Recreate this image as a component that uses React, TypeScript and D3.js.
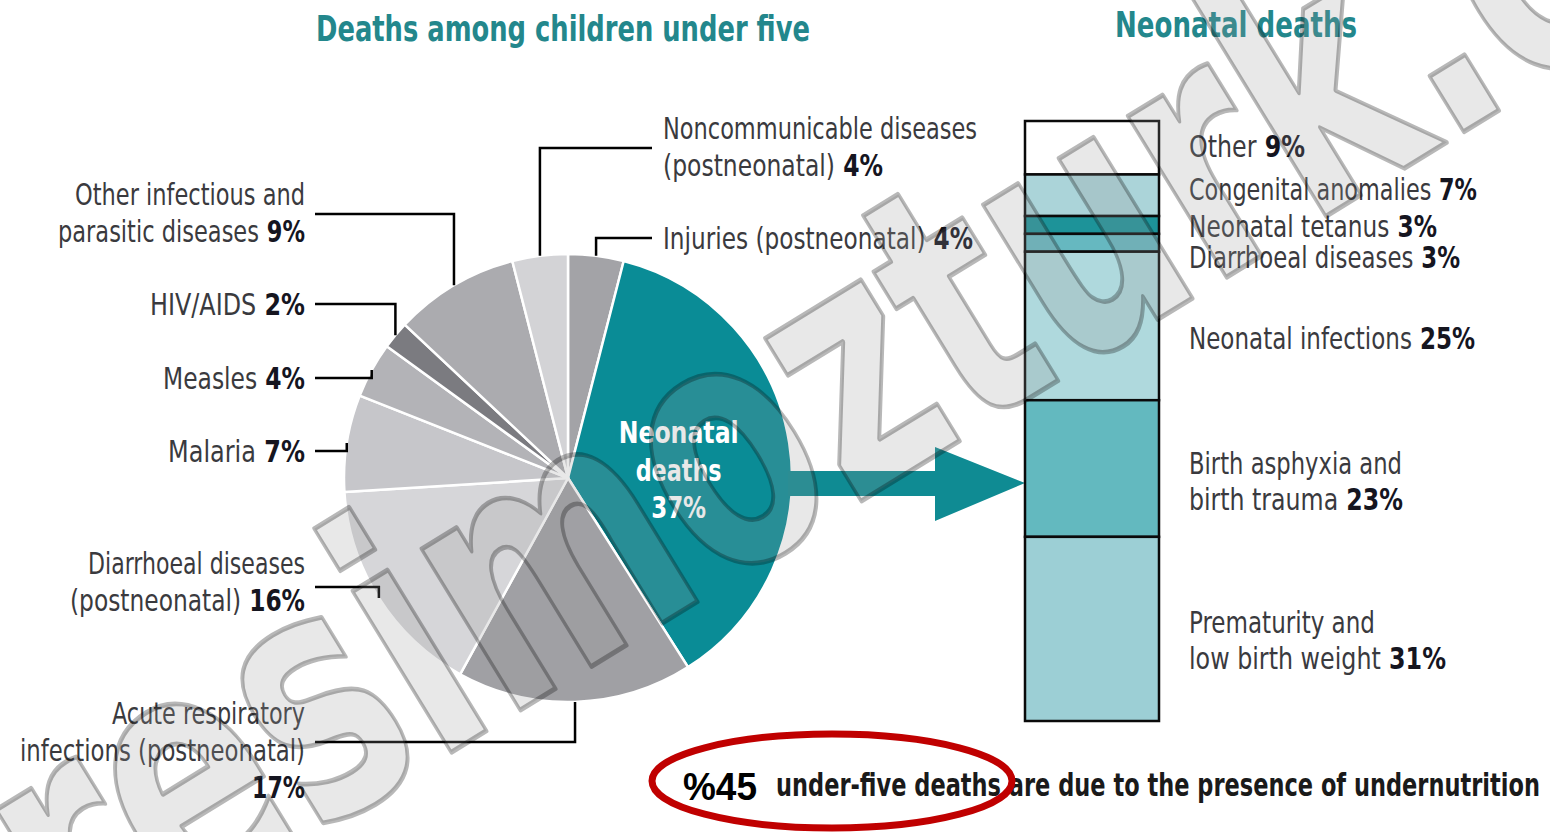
import React from "react";
import * as d3 from "d3";

// ---------- DATA ----------
const pieCategories = [
  "Injuries (postneonatal)",
  "Neonatal deaths",
  "Acute respiratory infections (postneonatal)",
  "Diarrhoeal diseases (postneonatal)",
  "Malaria",
  "Measles",
  "HIV/AIDS",
  "Other infectious and parasitic diseases",
  "Noncommunicable diseases (postneonatal)",
];
const pieValues = [4, 37, 17, 16, 7, 4, 2, 9, 4];
const pieColors = ["#a3a3a7", "#0a8c96", "#a0a0a4", "#d6d6d9", "#c6c6ca", "#b3b3b7", "#7b7b80", "#ababaf", "#d3d3d6"];
const pieLabelLines: string[][] = [
  ["Injuries (postneonatal)"],
  ["Neonatal", "deaths"],
  ["Acute respiratory", "infections (postneonatal)", ""],
  ["Diarrhoeal diseases", "(postneonatal)"],
  ["Malaria"],
  ["Measles"],
  ["HIV/AIDS"],
  ["Other infectious and", "parasitic diseases"],
  ["Noncommunicable diseases", "(postneonatal)"],
];

const barCategories = [
  "Other",
  "Congenital anomalies",
  "Neonatal tetanus",
  "Diarrhoeal diseases",
  "Neonatal infections",
  "Birth asphyxia and birth trauma",
  "Prematurity and low birth weight",
];
const barValues = [9, 7, 3, 3, 25, 23, 31];
const barColors = ["#ffffff", "#abd4d9", "#1d9399", "#66b8c0", "#afd9dd", "#63b9bf", "#9ccfd5"];
const barLabelLines: string[][] = [
  ["Other"],
  ["Congenital anomalies"],
  ["Neonatal tetanus"],
  ["Diarrhoeal diseases"],
  ["Neonatal infections"],
  ["Birth asphyxia and", "birth trauma"],
  ["Prematurity and", "low birth weight"],
];

const titleLeft = "Deaths among children under five";
const titleRight = "Neonatal deaths";
const footPct = "%45";
const footText = "under-five deaths are due to the presence of undernutrition";
const watermark = "resimozturk.com";

// ---------- LAYOUT ----------
const W = 1550;
const H = 832;
const cx = 568;
const cy = 478;
const R = 224;
const pieLabelLayout = [
  { side: "right", y0: 238, leaderY: 238, widths: [310] },
  { side: "inside", y0: 432, leaderY: 0, widths: [120, 86, 55] },
  { side: "left", y0: 713, leaderY: 742, widths: [193, 285, 53] },
  { side: "left", y0: 563, leaderY: 587, widths: [217, 235] },
  { side: "left", y0: 451, leaderY: 451, widths: [137] },
  { side: "left", y0: 378, leaderY: 378, widths: [142] },
  { side: "left", y0: 304, leaderY: 304, widths: [155] },
  { side: "left", y0: 194, leaderY: 214, widths: [230, 247] },
  { side: "right", y0: 128, leaderY: 148, widths: [314, 220] },
];
const barLabelOffsets = [-2, -6, 1, 14, 12, 12, 11];
const barLabelWidths = [[116], [288], [248], [271], [286], [213, 214], [186, 257]];

const FONT = "'DejaVu Sans Condensed', 'DejaVu Sans', sans-serif";
const TEXT = "#3a3a3e";

export default function App() {
  const pie = d3.pie<number>().sort(null).value((d) => d)(pieValues);
  const arc = d3.arc<d3.PieArcDatum<number>>().innerRadius(0).outerRadius(R);

  const total = d3.sum(barValues);
  const barX0 = 1025;
  const barX1 = 1159;
  const y = d3.scaleLinear().domain([0, total]).range([121, 721]);
  const cum = d3.cumsum(barValues);
  const starts = barValues.map((v, i) => cum[i] - v);

  const lineH = 37;

  return (
    <svg
      width={W}
      height={H}
      style={{ position: "absolute", left: 0, top: 0, background: "#fff" }}
      fontFamily={FONT}
    >
      {/* Titles */}
      <text x={316} y={28} dominantBaseline="central" fill="#23878c" fontSize={36} fontWeight="bold"
        textLength={494} lengthAdjust="spacingAndGlyphs">
        {titleLeft}
      </text>
      <text x={1115} y={24} dominantBaseline="central" fill="#23878c" fontSize={36} fontWeight="bold"
        textLength={242} lengthAdjust="spacingAndGlyphs">
        {titleRight}
      </text>

      {/* Pie */}
      <g transform={`translate(${cx},${cy})`}>
        {pie.map((d, i) => (
          <path key={i} d={arc(d) || ""} fill={pieColors[i]} stroke="#ffffff" strokeWidth={2.5} strokeLinejoin="round" />
        ))}
      </g>

      {/* Arrow */}
      <path
        d={`M ${cx + R - 4} 471 L 935 471 L 935 447 L 1025 483 L 935 521 L 935 496 L ${cx + R - 4} 496 Z`}
        fill="#0f8b93"
      />

      {/* Pie labels + leaders */}
      {pie.map((d, i) => {
        const L = pieLabelLayout[i];
        const lines = pieLabelLines[i];
        const pct = `${pieValues[i]}%`;
        if (L.side === "inside") {
          const [lx] = d3.arc().innerRadius(110).outerRadius(110).centroid(d as any);
          return (
            <g key={i}>
              {[...lines, pct].map((t, k) => (
                <text
                  key={k}
                  x={cx + lx + 2 - L.widths[k] / 2}
                  y={L.y0 + k * 37.5}
                  dominantBaseline="central"
                  fill="#ffffff"
                  fontWeight="bold"
                  fontSize={31}
                  textLength={L.widths[k]}
                  lengthAdjust="spacingAndGlyphs"
                >
                  {t}
                </text>
              ))}
            </g>
          );
        }
        const mid = (d.startAngle + d.endAngle) / 2;
        const px = cx + R * Math.sin(mid);
        const py = cy - R * Math.cos(mid);
        const left = L.side === "left";
        const lx0 = left ? 315 : 652;
        return (
          <g key={i}>
            <path
              d={`M ${lx0} ${L.leaderY} L ${px} ${L.leaderY} L ${px} ${py}`}
              fill="none"
              stroke="#000"
              strokeWidth={2.5}
            />
            {lines.map((t, k) => {
              const last = k === lines.length - 1;
              const w = L.widths[k];
              const tx = left ? 305 - w : 663;
              return (
                <text
                  key={k}
                  x={tx}
                  y={L.y0 + k * lineH}
                  dominantBaseline="central"
                  fill={TEXT}
                  fontSize={31}
                  textLength={w}
                  lengthAdjust="spacingAndGlyphs"
                >
                  {t}
                  {last ? (
                    <tspan fontWeight="bold" fill="#15151f">
                      {t ? "  " : ""}
                      {pct}
                    </tspan>
                  ) : null}
                </text>
              );
            })}
          </g>
        );
      })}

      {/* Stacked bar */}
      {barValues.map((v, i) => (
        <rect
          key={i}
          x={barX0}
          y={y(starts[i])}
          width={barX1 - barX0}
          height={y(cum[i]) - y(starts[i])}
          fill={barColors[i]}
          stroke="#0a0a0a"
          strokeWidth={2.5}
        />
      ))}
      {barValues.map((v, i) => {
        const lines = barLabelLines[i];
        const mid = (y(starts[i]) + y(cum[i])) / 2 + barLabelOffsets[i];
        const y0 = mid - ((lines.length - 1) * 36) / 2;
        return (
          <g key={i}>
            {lines.map((t, k) => {
              const last = k === lines.length - 1;
              return (
                <text key={k} x={1189} y={y0 + k * 36} dominantBaseline="central" fill={TEXT} fontSize={31}
                  textLength={barLabelWidths[i][k]} lengthAdjust="spacingAndGlyphs">
                  {t}
                  {last ? (
                    <tspan fontWeight="bold" fill="#15151f">
                      {"  "}
                      {v}%
                    </tspan>
                  ) : null}
                </text>
              );
            })}
          </g>
        );
      })}

      {/* Footer */}
      <text x={683} y={787} dominantBaseline="central" fill="#000" fontSize={38} fontWeight="bold"
        fontFamily="'Liberation Sans', Arial, sans-serif" textLength={74} lengthAdjust="spacingAndGlyphs">
        {footPct}
      </text>
      <text x={776} y={785} dominantBaseline="central" fill="#1a1a1a" fontSize={32} fontWeight="bold"
        textLength={764} lengthAdjust="spacingAndGlyphs">
        {footText}
      </text>
      <ellipse cx={832} cy={781} rx={180} ry={47} fill="none" stroke="#c00000" strokeWidth={7} />

      {/* Watermark */}
      <g transform="translate(78,981) rotate(-31.5)" style={{ pointerEvents: "none" }}>
        <text
          x={0}
          y={0}
          fontSize={345}
          fontWeight="bold"
          fontFamily="'DejaVu Sans', sans-serif"
          textLength={2240}
          lengthAdjust="spacingAndGlyphs"
          fill="rgba(150,150,150,0.22)"
          stroke="rgba(0,0,0,0.28)"
          strokeWidth={5}
          strokeLinejoin="round"
        >
          {watermark}
        </text>
      </g>
    </svg>
  );
}
